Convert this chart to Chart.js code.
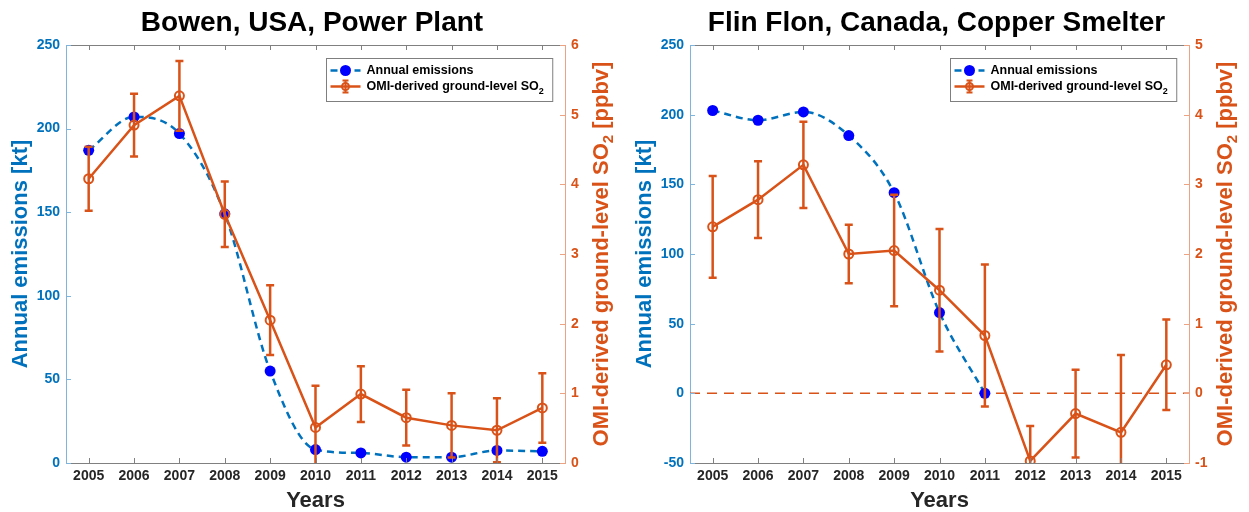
<!DOCTYPE html>
<html>
<head>
<meta charset="utf-8">
<script src="https://cdn.jsdelivr.net/npm/chart.js@4.4.0/dist/chart.umd.min.js"></script>
<style>
  body { margin: 0; background: #fff; width: 1249px; height: 512px; overflow: hidden; display: flex; }
  .box { position: relative; width: 624px; height: 512px; }
</style>
</head>
<body>
<div class="box"><canvas id="c1" width="624" height="512"></canvas></div>
<div class="box" style="width:625px"><canvas id="c2" width="625" height="512"></canvas></div>
<script>
// données :
const years = ['2005', '2006', '2007', '2008', '2009', '2010', '2011', '2012', '2013', '2014', '2015'];

// Bowen (kt, ppbv)
const bowenEmis = [187, 207, 197, 149, 55, 8, 6, 3.5, 3.5, 7.5, 7];
const bowenSO2 = [4.08, 4.85, 5.27, 3.57, 2.05, 0.51, 0.99, 0.65, 0.54, 0.47, 0.79];
const bowenErr = [0.46, 0.45, 0.50, 0.47, 0.50, 0.60, 0.40, 0.40, 0.46, 0.46, 0.50];
const bowenKtTicks = [0, 50, 100, 150, 200, 250];
const bowenPpbTicks = [0, 1, 2, 3, 4, 5, 6];

// Flin Flon (kt, ppbv)
const flinEmis = [203, 196, 202, 185, 144, 58, 0, null, null, null, null];
const flinSO2 = [2.39, 2.78, 3.28, 2.00, 2.05, 1.48, 0.83, -0.97, -0.29, -0.56, 0.41];
const flinErr = [0.73, 0.55, 0.62, 0.42, 0.80, 0.88, 1.02, 0.50, 0.63, 1.11, 0.65];
const flinKtTicks = [-50, 0, 50, 100, 150, 200, 250];
const flinPpbTicks = [-1, 0, 1, 2, 3, 4, 5];

const FONT = "'Liberation Sans', Arial, Helvetica, sans-serif";
const BLUE = '#0072BD';
const ORANGE = '#D95319';
const DARK = '#262626';

Chart.defaults.font.family = FONT;
Chart.defaults.font.weight = 'bold';

// barres d'erreur, cadre, titre de droite et légende façon matlab :
const matlabPlugin = {
    id: 'matlab',
    beforeDatasetsDraw(chart, args, opts) {
        if (!opts.zeroLine) return;
        const ctx = chart.ctx;
        const a = chart.chartArea;
        const y = chart.scales.y2.getPixelForValue(0);
        ctx.save();
        ctx.strokeStyle = ORANGE;
        ctx.lineWidth = 1.5;
        ctx.setLineDash([10, 7]);
        ctx.beginPath();
        ctx.moveTo(a.left, y);
        ctx.lineTo(a.right, y);
        ctx.stroke();
        ctx.restore();
    },
    afterDatasetsDraw(chart) {
        const ctx = chart.ctx;
        const a = chart.chartArea;
        chart.data.datasets.forEach((ds, i) => {
            if (!ds.errors) return;
            const meta = chart.getDatasetMeta(i);
            const ys = chart.scales[ds.yAxisID];
            ctx.save();
            ctx.beginPath();
            ctx.rect(a.left, a.top, a.right - a.left, a.bottom - a.top);
            ctx.clip();
            ctx.strokeStyle = ORANGE;
            ctx.lineWidth = 2.5;
            ds.data.forEach((v, j) => {
                const x = meta.data[j].x;
                const top = ys.getPixelForValue(v + ds.errors[j]);
                const bot = ys.getPixelForValue(v - ds.errors[j]);
                ctx.beginPath();
                ctx.moveTo(x, top); ctx.lineTo(x, bot);
                ctx.moveTo(x - 4, top); ctx.lineTo(x + 4, top);
                ctx.moveTo(x - 4, bot); ctx.lineTo(x + 4, bot);
                ctx.stroke();
            });
            ctx.restore();
        });
    },
    afterDraw(chart) {
        const ctx = chart.ctx;
        const a = chart.chartArea;
        const xs = chart.scales.x, y1 = chart.scales.y, y2 = chart.scales.y2;
        ctx.save();

        // bord du haut
        ctx.strokeStyle = '#808080';
        ctx.lineWidth = 1;
        ctx.beginPath();
        ctx.moveTo(a.left, a.top + 0.5);
        ctx.lineTo(a.right, a.top + 0.5);
        ctx.stroke();

        // petits traits vers l'intérieur
        ctx.beginPath();
        xs.ticks.forEach((t, i) => {
            const x = Math.round(xs.getPixelForTick(i)) + 0.5;
            ctx.moveTo(x, a.bottom); ctx.lineTo(x, a.bottom - 5);
            ctx.moveTo(x, a.top); ctx.lineTo(x, a.top + 5);
        });
        ctx.stroke();
        ctx.strokeStyle = '#7fb5dc';
        ctx.beginPath();
        y1.ticks.forEach(t => {
            const y = Math.round(y1.getPixelForValue(t.value)) + 0.5;
            ctx.moveTo(a.left, y); ctx.lineTo(a.left + 5, y);
        });
        ctx.stroke();
        ctx.strokeStyle = '#eca384';
        ctx.beginPath();
        y2.ticks.forEach(t => {
            const y = Math.round(y2.getPixelForValue(t.value)) + 0.5;
            ctx.moveTo(a.right, y); ctx.lineTo(a.right - 5, y);
        });
        ctx.stroke();

        // titre axe de droite (SO2 en indice)
        ctx.translate(a.right + 37, (a.top + a.bottom) / 2);
        ctx.rotate(-Math.PI / 2);
        ctx.fillStyle = ORANGE;
        ctx.textBaseline = 'middle';
        ctx.textAlign = 'left';
        const t1 = 'OMI-derived ground-level SO', t2 = '2', t3 = ' [ppbv]';
        ctx.font = 'bold 22px ' + FONT;
        const w1 = ctx.measureText(t1).width, w3 = ctx.measureText(t3).width;
        ctx.font = 'bold 15px ' + FONT;
        const w2 = ctx.measureText(t2).width;
        let x0 = -(w1 + w2 + w3) / 2;
        ctx.font = 'bold 22px ' + FONT;
        ctx.fillText(t1, x0, 0);
        ctx.font = 'bold 15px ' + FONT;
        ctx.fillText(t2, x0 + w1, 7);
        ctx.font = 'bold 22px ' + FONT;
        ctx.fillText(t3, x0 + w1 + w2, 0);
        ctx.restore();

        // légende
        ctx.save();
        const lab1 = chart.data.datasets[1].label;
        const lab2 = 'OMI-derived ground-level SO';
        ctx.font = 'bold 12.5px ' + FONT;
        const tw = Math.max(ctx.measureText(lab1).width, ctx.measureText(lab2).width + 8);
        const w = 40 + tw + 6, h = 43;
        const lx = Math.round(a.right - 13 - w) + 0.5, ly = Math.round(a.top + 13) + 0.5;
        ctx.fillStyle = '#fff';
        ctx.fillRect(lx, ly, w, h);
        ctx.strokeStyle = '#7f7f7f';
        ctx.lineWidth = 1;
        ctx.strokeRect(lx, ly, w, h);

        const r1 = ly + 12, r2 = ly + 28;
        ctx.strokeStyle = BLUE;
        ctx.lineWidth = 2.5;
        ctx.setLineDash([7, 5]);
        ctx.beginPath(); ctx.moveTo(lx + 4, r1); ctx.lineTo(lx + 34, r1); ctx.stroke();
        ctx.setLineDash([]);
        ctx.fillStyle = '#0000FF';
        ctx.beginPath(); ctx.arc(lx + 19, r1, 5.5, 0, Math.PI * 2); ctx.fill();

        ctx.strokeStyle = ORANGE;
        ctx.beginPath(); ctx.moveTo(lx + 4, r2); ctx.lineTo(lx + 34, r2); ctx.stroke();
        ctx.lineWidth = 2;
        ctx.beginPath();
        ctx.moveTo(lx + 19, r2 - 6); ctx.lineTo(lx + 19, r2 + 6);
        ctx.moveTo(lx + 16, r2 - 6); ctx.lineTo(lx + 22, r2 - 6);
        ctx.moveTo(lx + 16, r2 + 6); ctx.lineTo(lx + 22, r2 + 6);
        ctx.stroke();
        ctx.beginPath(); ctx.arc(lx + 19, r2, 3.5, 0, Math.PI * 2); ctx.stroke();

        ctx.fillStyle = '#000';
        ctx.textBaseline = 'middle';
        ctx.textAlign = 'left';
        ctx.fillText(lab1, lx + 40, r1);
        ctx.fillText(lab2, lx + 40, r2);
        const ws = ctx.measureText(lab2).width;
        ctx.font = 'bold 9px ' + FONT;
        ctx.fillText('2', lx + 40 + ws, r2 + 5);
        ctx.restore();
    }
};

function makeChart(id, title, emis, so2, err, ktTicks, ppbTicks, zeroLine) {
    const canvas = document.getElementById(id);
    return new Chart(canvas, {
        type: 'line',
        data: {
            labels: years,
            datasets: [
                {
                    label: 'OMI-derived ground-level SO₂',
                    data: so2,
                    errors: err,
                    yAxisID: 'y2',
                    order: 0,
                    borderColor: ORANGE,
                    borderWidth: 2.5,
                    pointRadius: 4.5,
                    pointBorderWidth: 2,
                    pointBorderColor: ORANGE,
                    pointBackgroundColor: 'rgba(0,0,0,0)',
                    tension: 0
                },
                {
                    label: 'Annual emissions',
                    data: emis,
                    yAxisID: 'y',
                    order: 1,
                    borderColor: BLUE,
                    borderWidth: 2.5,
                    borderDash: [7, 5],
                    pointRadius: 5.5,
                    pointBorderWidth: 0,
                    pointBackgroundColor: '#0000FF',
                    cubicInterpolationMode: 'monotone',
                    spanGaps: false
                }
            ]
        },
        options: {
            responsive: false,
            animation: false,
            events: [],
            layout: { padding: 0 },
            plugins: {
                legend: { display: false },
                tooltip: { enabled: false },
                title: {
                    display: true,
                    text: title,
                    color: '#000',
                    font: { size: 28, weight: 'bold', lineHeight: 1 },
                    padding: { top: 9, bottom: 8 }
                },
                matlab: { zeroLine: zeroLine }
            },
            scales: {
                x: {
                    type: 'category',
                    offset: true,
                    grid: { display: false, drawTicks: false },
                    border: { display: true, color: '#808080', width: 1 },
                    ticks: { color: DARK, font: { size: 14, weight: 'bold' }, padding: 5, maxRotation: 0, autoSkip: false },
                    title: { display: true, text: 'Years', color: DARK, font: { size: 22, weight: 'bold', lineHeight: 1 }, padding: { top: 0, bottom: 0 } },
                    afterFit: s => { s.height = 49; }
                },
                y: {
                    position: 'left',
                    min: ktTicks[0],
                    max: ktTicks[ktTicks.length - 1],
                    grid: { display: false, drawTicks: false },
                    border: { display: true, color: '#7fb5dc', width: 1 },
                    ticks: { stepSize: ktTicks[1] - ktTicks[0], color: BLUE, font: { size: 14, weight: 'bold' }, padding: 6 },
                    title: { display: true, text: 'Annual emissions [kt]', color: BLUE, font: { size: 22, weight: 'bold' }, padding: { top: 8 } },
                    afterFit: s => { s.width = 66; }
                },
                y2: {
                    position: 'right',
                    min: ppbTicks[0],
                    max: ppbTicks[ppbTicks.length - 1],
                    grid: { display: false, drawTicks: false },
                    border: { display: true, color: '#eca384', width: 1 },
                    ticks: { stepSize: ppbTicks[1] - ppbTicks[0], color: ORANGE, font: { size: 14, weight: 'bold' }, padding: 6 },
                    afterFit: s => { s.width = canvas.width - 565; }
                }
            }
        },
        plugins: [matlabPlugin]
    });
}

makeChart('c1', 'Bowen, USA, Power Plant', bowenEmis, bowenSO2, bowenErr, bowenKtTicks, bowenPpbTicks, false);
makeChart('c2', 'Flin Flon, Canada, Copper Smelter', flinEmis, flinSO2, flinErr, flinKtTicks, flinPpbTicks, true);
</script>
</body>
</html>
